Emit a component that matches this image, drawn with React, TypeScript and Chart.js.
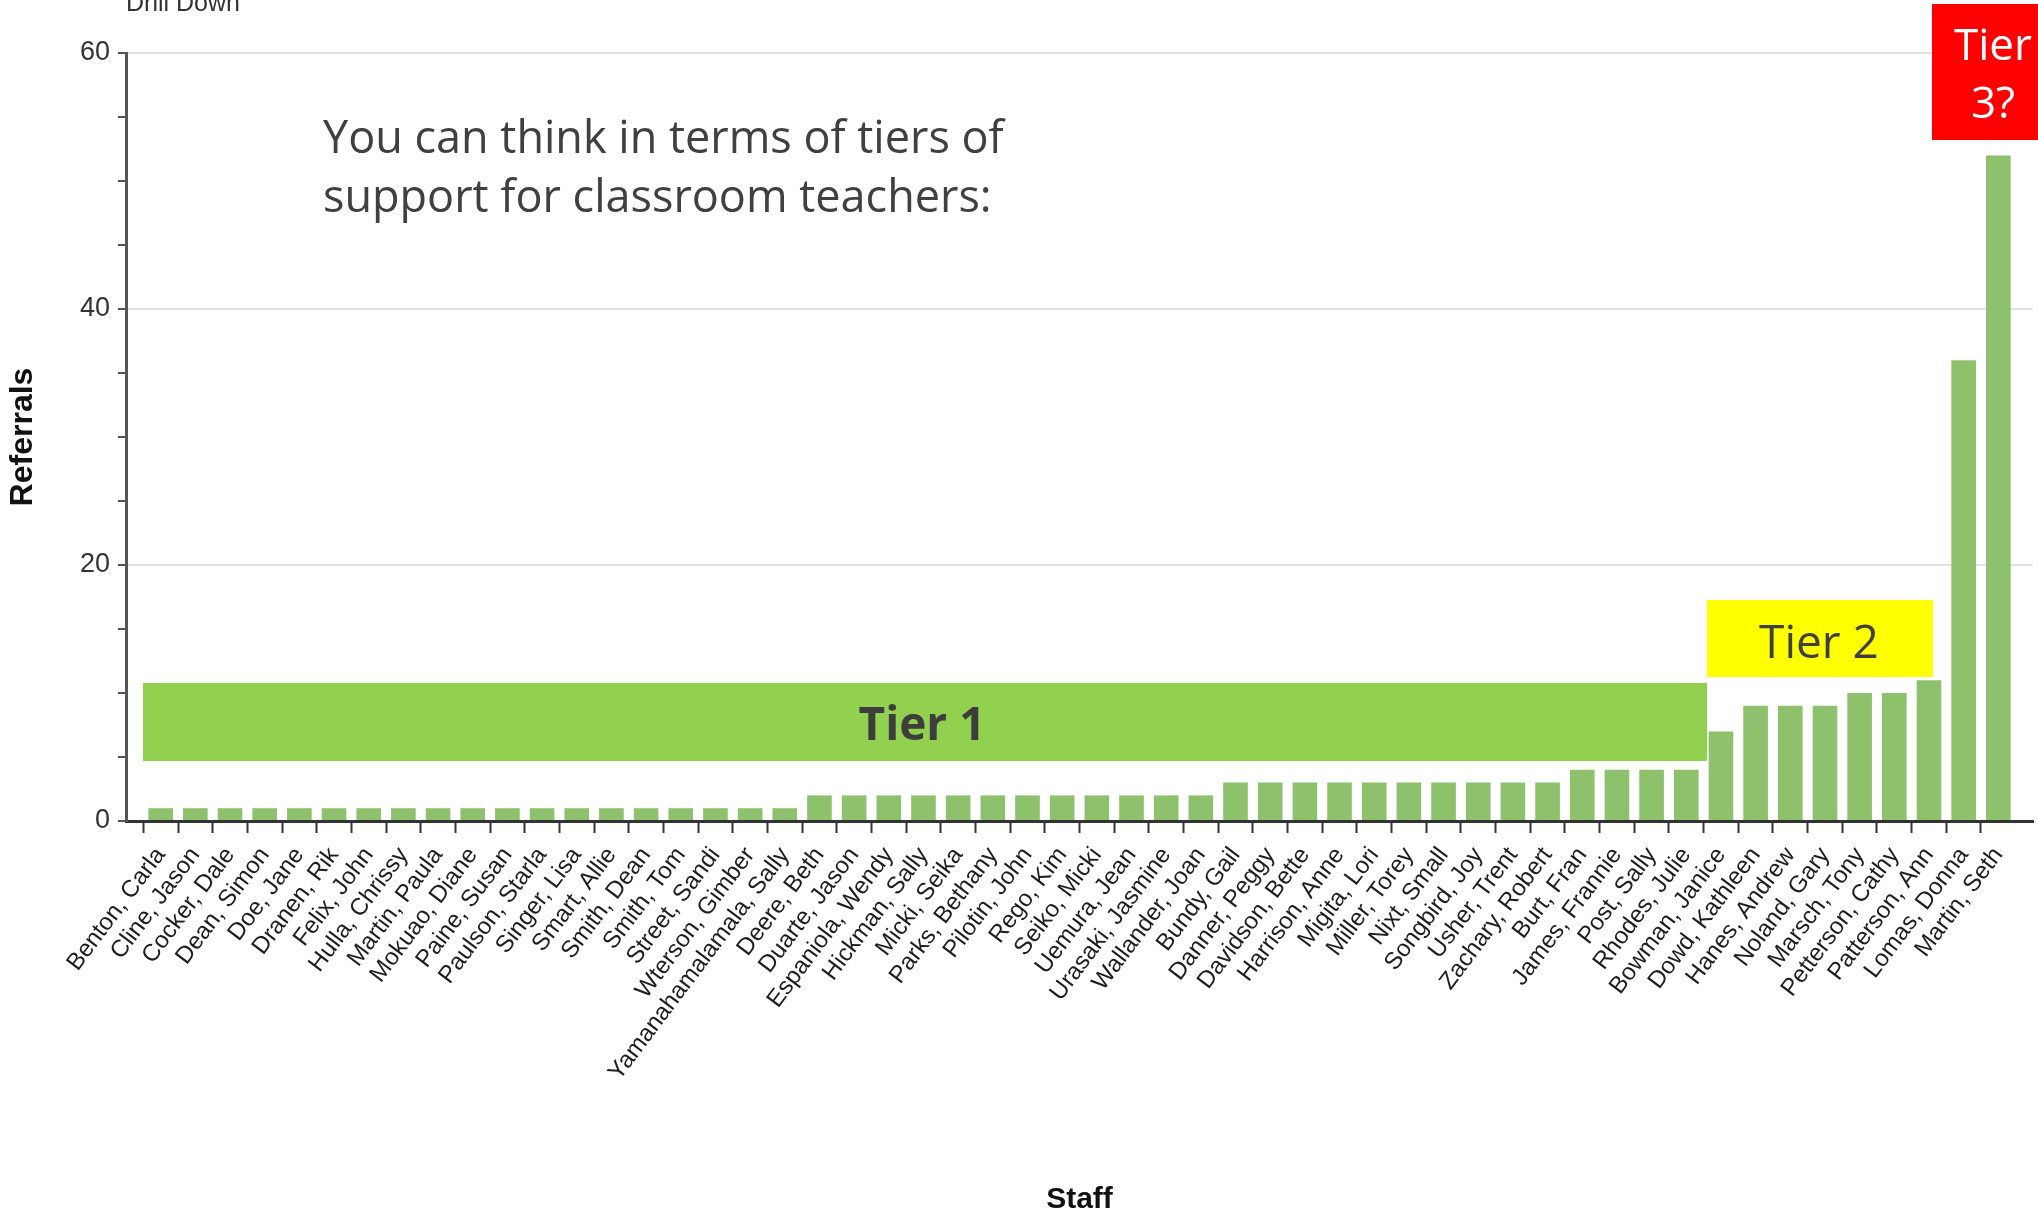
import React, { useEffect, useRef } from "react";
import { Chart, registerables } from "chart.js";

Chart.register(...registerables);

const staffNames: string[] = [
  "Benton, Carla", "Cline, Jason", "Cocker, Dale", "Dean, Simon", "Doe, Jane", "Dranen, Rik",
  "Felix, John", "Hulla, Chrissy", "Martin, Paula", "Mokuao, Diane", "Paine, Susan", "Paulson, Starla",
  "Singer, Lisa", "Smart, Allie", "Smith, Dean", "Smith, Tom", "Street, Sandi", "Wterson, Gimber",
  "Yamanahamalamala, Sally", "Deere, Beth", "Duarte, Jason", "Espaniola, Wendy", "Hickman, Sally",
  "Micki, Seika", "Parks, Bethany", "Pilotin, John", "Rego, Kim", "Seiko, Micki", "Uemura, Jean",
  "Urasaki, Jasmine", "Wallander, Joan", "Bundy, Gail", "Danner, Peggy", "Davidson, Bette",
  "Harrison, Anne", "Migita, Lori", "Miller, Torey", "Nixt, Small", "Songbird, Joy", "Usher, Trent",
  "Zachary, Robert", "Burt, Fran", "James, Frannie", "Post, Sally", "Rhodes, Julie", "Bowman, Janice",
  "Dowd, Kathleen", "Hanes, Andrew", "Noland, Gary", "Marsch, Tony", "Petterson, Cathy",
  "Patterson, Ann", "Lomas, Donna", "Martin, Seth",
];

const referrals: number[] = [
  1, 1, 1, 1, 1, 1, 1, 1, 1, 1, 1, 1, 1, 1, 1, 1, 1, 1, 1,
  2, 2, 2, 2, 2, 2, 2, 2, 2, 2, 2, 2,
  3, 3, 3, 3, 3, 3, 3, 3, 3, 3,
  4, 4, 4, 4,
  7, 9, 9, 9, 10, 10, 11, 36, 52,
];

const yTickLabels: number[] = [0, 20, 40, 60];

const noteLines: string[] = ["You can think in terms of tiers of", "support for classroom teachers:"];
const tier3Lines: string[] = ["Tier", "3?"];

const annotationPlugin = {
  id: "tierAnnotations",
  afterDraw(chart: any) {
    const ctx = chart.ctx as CanvasRenderingContext2D;
    ctx.save();
    // Drill Down (cut at top)
    ctx.fillStyle = "#333333";
    ctx.font = '25px "Liberation Sans", Arial, sans-serif';
    ctx.textAlign = "left";
    ctx.textBaseline = "alphabetic";
    ctx.fillText("Drill Down", 126, 11);

    // note text
    ctx.fillStyle = "#404040";
    ctx.font = '45px "Open Sans", sans-serif';
    ctx.fillText(noteLines[0], 323, 153);
    ctx.fillText(noteLines[1], 323, 212);

    // Tier 1
    ctx.fillStyle = "#92d050";
    ctx.fillRect(143, 683, 1707 - 143, 761 - 683);
    ctx.fillStyle = "#3d3d3d";
    ctx.font = 'bold 46px "Open Sans", sans-serif';
    ctx.textAlign = "center";
    ctx.fillText("Tier 1", 922, 740);

    // Tier 2
    ctx.fillStyle = "#ffff00";
    ctx.fillRect(1707, 600, 1933 - 1707, 677 - 600);
    ctx.fillStyle = "#404040";
    ctx.font = '46px "Open Sans", sans-serif';
    ctx.fillText("Tier 2", 1819, 658);

    // Tier 3
    ctx.fillStyle = "#ff0000";
    ctx.fillRect(1932, 4, 2038 - 1932, 140 - 4);
    ctx.fillStyle = "#ffffff";
    ctx.font = '44px "Open Sans", sans-serif';
    ctx.fillText(tier3Lines[0], 1993, 60);
    ctx.fillText(tier3Lines[1], 1993, 118);
    ctx.restore();
  },
};

export default function App() {
  const canvasRef = useRef<HTMLCanvasElement | null>(null);

  useEffect(() => {
    if (!canvasRef.current) return;
    const n = staffNames.length;
    const chart = new Chart(canvasRef.current, {
      type: "bar",
      data: {
        datasets: [
          {
            label: "Referrals",
            data: referrals.map((v, i) => ({ x: i + 1, y: v })),
            backgroundColor: "#8dc16b",
            borderWidth: 0,
            barPercentage: 0.71,
            categoryPercentage: 1,
          },
        ],
      },
      options: {
        animation: false,
        responsive: true,
        maintainAspectRatio: false,
        layout: { padding: { left: 0, top: 53, right: 5, bottom: 0 } },
        plugins: { legend: { display: false }, tooltip: { enabled: false } },
        scales: {
          x: {
            type: "linear",
            offset: false,
            min: 0,
            max: n + 1,
            afterFit: (s: any) => {
              s.height = 397;
              s.paddingRight = 0;
            },
            ticks: {
              stepSize: 1,
              autoSkip: false,
              maxRotation: 53,
              minRotation: 53,
              padding: 9,
              color: "#1e1e1e",
              font: { family: '"Liberation Sans", Arial, sans-serif', size: 24 },
              callback: (value: any) => staffNames[Number(value) - 1] ?? "",
            },
            grid: {
              drawOnChartArea: false,
              drawTicks: true,
              tickLength: 12,
              tickWidth: 2,
              tickColor: (c: any) =>
                c.tick && c.tick.value >= 1 && c.tick.value <= n ? "#333333" : "rgba(0,0,0,0)",
            },
            border: { display: true, color: "#333333", width: 3 },
            title: {
              display: true,
              text: "Staff",
              color: "#111111",
              font: { family: '"Liberation Sans", Arial, sans-serif', size: 30, weight: "bold" },
              padding: { top: 0, bottom: 0 },
            },
          },
          y: {
            min: 0,
            max: 60,
            afterFit: (s: any) => {
              s.width = 126;
            },
            ticks: {
              stepSize: 5,
              padding: 8,
              color: "#333333",
              font: { family: '"Liberation Sans", Arial, sans-serif', size: 27 },
              callback: (value: any) => (yTickLabels.includes(Number(value)) ? String(value) : ""),
            },
            grid: {
              drawTicks: true,
              tickLength: 8,
              lineWidth: 2,
              tickWidth: 2,
              tickColor: "#555555",
              color: (c: any) =>
                c.tick && c.tick.value !== 0 && yTickLabels.includes(c.tick.value) ? "#e2e2e2" : "rgba(0,0,0,0)",
            },
            border: { display: true, color: "#555555", width: 3 },
            title: {
              display: true,
              text: "Referrals",
              color: "#111111",
              font: { family: '"Liberation Sans", Arial, sans-serif', size: 32, weight: "bold" },
              padding: { top: 4, bottom: 0 },
            },
          },
        },
      },
      plugins: [annotationPlugin],
    });
    return () => chart.destroy();
  }, []);

  return (
    <div style={{ position: "fixed", left: 0, top: 0, width: 2038, height: 1218, background: "#ffffff" }}>
      <canvas ref={canvasRef} />
    </div>
  );
}
